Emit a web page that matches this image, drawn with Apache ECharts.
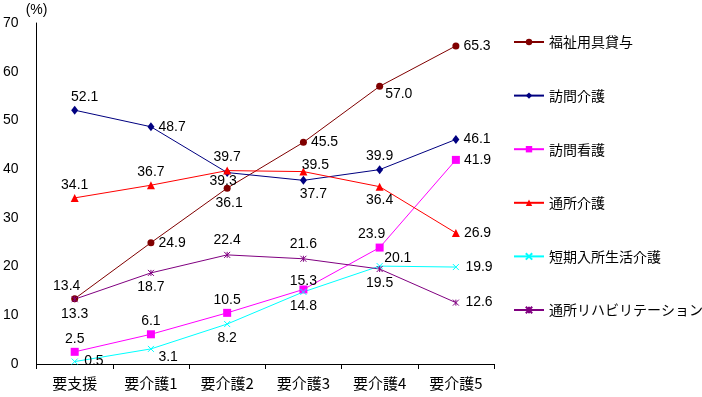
<!DOCTYPE html>
<html>
<head>
<meta charset="utf-8">
<script src="https://cdn.jsdelivr.net/npm/echarts@6/dist/echarts.min.js"></script>
<style>
  html, body { margin: 0; padding: 0; background: #fff; }
  #chart { width: 702px; height: 397px; }
</style>
</head>
<body>
<div id="chart"></div>
<script>
// カテゴリ
const categories = ['要支援', '要介護1', '要介護2', '要介護3', '要介護4', '要介護5']

// 各サービスの利用率 (%)
const fukushiYogu = [13.4, 24.9, 36.1, 45.5, 57.0, 65.3]
const homonKaigo = [52.1, 48.7, 39.3, 37.7, 39.9, 46.1]
const homonKango = [2.5, 6.1, 10.5, 15.3, 23.9, 41.9]
const tsushoKaigo = [34.1, 36.7, 39.7, 39.5, 36.4, 26.9]
const tankiNyusho = [0.5, 3.1, 8.2, 14.8, 20.1, 19.9]
const tsushoReha = [13.3, 18.7, 22.4, 21.6, 19.5, 12.6]

// 値ラベルの位置
const posFukushi = ['topL', 'right', 'bottomFar', 'right', 'rightLow', 'right']
const posHomonKaigo = ['topR', 'right', 'bottomNear', 'bottomR', 'top', 'right']
const posHomonKango = ['top', 'top', 'top', 'topNear', 'topL', 'right']
const posTsusho = ['top', 'top', 'top', 'topRNear', 'bottom', 'right']
const posTanki = ['right', 'rightLow', 'bottom', 'bottom', 'rightHigh', 'right']
const posReha = ['bottom', 'bottom', 'top', 'top', 'bottom', 'right']

const labelStyle = (p) => {
  const map = {
    top: { position: 'top', offset: [0, 0] },
    topNear: { position: 'top', offset: [0, 5] },
    topL: { position: 'top', offset: [-8, 0] },
    topR: { position: 'top', offset: [10, 0] },
    topRNear: { position: 'top', offset: [12, 7] },
    bottom: { position: 'bottom', offset: [0, 0] },
    bottomR: { position: 'bottom', offset: [10, 0] },
    bottomNear: { position: 'bottom', offset: [-4, -5] },
    bottomFar: { position: 'bottom', offset: [2, 2] },
    right: { position: 'right', offset: [2, 0] },
    rightLow: { position: 'right', offset: [0, 8] },
    rightHigh: { position: 'right', offset: [-3, -8] }
  }
  return map[p]
}

const crossPath = 'path://M0,0L10,10M10,0L0,10'
const starPath = 'path://M0,0L10,10M10,0L0,10M5,0L5,10'

const makeSeries = (name, values, pos, color, symbol, size) => ({
  name,
  type: 'line',
  data: values.map((v, i) => ({ value: v, label: labelStyle(pos[i]) })),
  symbol,
  symbolSize: size,
  lineStyle: { color, width: 1 },
  itemStyle: symbol.startsWith('path://')
    ? { color: 'none', borderColor: color, borderWidth: 1 }
    : { color },
  label: {
    show: true,
    color: '#000',
    fontFamily: 'Liberation Sans',
    fontSize: 14,
    distance: 2,
    formatter: (p) => p.value.toFixed(1)
  },
  emphasis: { disabled: true },
  animation: false
})

const myChart = echarts.init(document.getElementById('chart'))
myChart.setOption({
  backgroundColor: '#fff',
  grid: { left: 36, right: 208, top: 23, bottom: 33 },
  legend: {
    orient: 'vertical',
    left: 513,
    top: 35,
    padding: 0,
    itemWidth: 30,
    itemHeight: 8,
    itemGap: 39.6,
    textStyle: { fontFamily: 'Noto Sans CJK JP', fontSize: 14, color: '#000' },
    data: ['福祉用具貸与', '訪問介護', '訪問看護', '通所介護', '短期入所生活介護', '通所リハビリテーション']
  },
  xAxis: {
    type: 'category',
    data: categories,
    boundaryGap: true,
    axisLine: { lineStyle: { color: '#000', width: 1 } },
    axisTick: { show: true, length: 5, inside: false, lineStyle: { color: '#000' } },
    axisLabel: { color: '#000', fontFamily: 'Noto Sans CJK JP', fontSize: 15, margin: 12 }
  },
  yAxis: {
    type: 'value',
    min: 0,
    max: 70,
    interval: 10,
    name: '(%)',
    nameLocation: 'end',
    nameGap: 6,
    nameTextStyle: { color: '#000', fontFamily: 'Liberation Sans', fontSize: 14, align: 'center' },
    axisLine: { show: true, lineStyle: { color: '#000', width: 1 } },
    axisTick: { show: false },
    splitLine: { show: false },
    axisLabel: { color: '#000', fontFamily: 'Liberation Sans', fontSize: 14, margin: 18 }
  },
  series: [
    makeSeries('福祉用具貸与', fukushiYogu, posFukushi, '#800000', 'circle', 7),
    makeSeries('訪問介護', homonKaigo, posHomonKaigo, '#000080', 'diamond', [7, 9]),
    makeSeries('訪問看護', homonKango, posHomonKango, '#FF00FF', 'rect', 8),
    makeSeries('通所介護', tsushoKaigo, posTsusho, '#FF0000', 'triangle', 8),
    makeSeries('短期入所生活介護', tankiNyusho, posTanki, '#00FFFF', crossPath, 6),
    makeSeries('通所リハビリテーション', tsushoReha, posReha, '#800080', starPath, 6)
  ]
})
</script>
</body>
</html>
